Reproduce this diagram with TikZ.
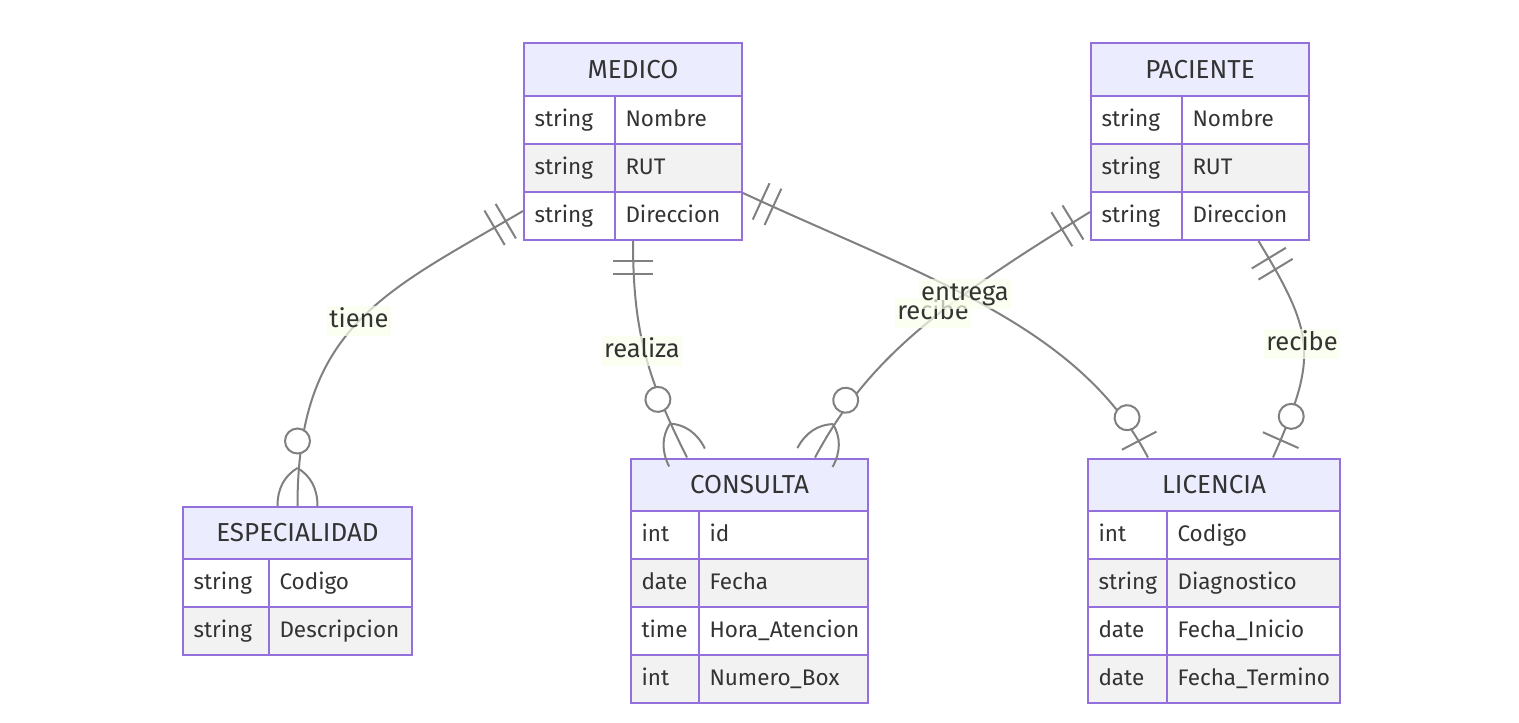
\documentclass[tikz,border=0pt]{standalone}
\usepackage{fontspec}
\setmainfont{Fira Sans}

\definecolor{erborder}{HTML}{9370DB}
\definecolor{erhead}{HTML}{ECECFF}
\definecolor{errow}{HTML}{F2F2F2}
\definecolor{ertext}{HTML}{333333}
\definecolor{relline}{HTML}{808080}
\definecolor{lblbg}{HTML}{F9FFEC}

\begin{document}
\begin{tikzpicture}[x=1pt, y=-1pt,
  ent/.style={draw=erborder, fill=erhead, line width=2pt, anchor=north west, minimum height=53pt, inner sep=0pt, text=ertext, font=\fontsize{26}{30}\selectfont},
  cell/.style={draw=erborder, line width=2pt, anchor=north west, minimum height=48pt, inner xsep=10.5pt, inner ysep=0pt, text width=#1, align=left, text height=17pt, text depth=5pt, text=ertext, font=\fontsize{22.5}{26}\selectfont},
  rowA/.style={cell=#1, fill=white},
  rowB/.style={cell=#1, fill=errow},
  rel/.style={draw=relline, line width=2pt},
  lbl/.style={fill=lblbg, fill opacity=0.7, text opacity=1, text=ertext, inner xsep=2pt, inner ysep=3pt, text height=18pt, text depth=6pt, font=\fontsize{25.5}{29}\selectfont},
  onlyone/.pic={\draw[rel] (20,-20) -- (20,20) (33,-20) -- (33,20);},
  zeroone/.pic={\draw[rel, fill=white] (-45,0) circle (12.5pt); \draw[rel] (-19,-19.5) -- (-19,19.5);},
  zeromany/.pic={\draw[rel, fill=white] (-65,0) circle (12.5pt);
    \draw[rel] (-38,0) .. controls (-30,13.3) and (-17.3,20) .. (0,20)
               (-38,0) .. controls (-30,-13.3) and (-17.3,-20) .. (0,-20);}
]
  \useasboundingbox (0,0) rectangle (1519,723);

  \node[ent, minimum width=218pt] (med) at (523,42) {MEDICO};
  \node[rowA=70pt] (medt1) at (523,95) {string};
  \node[rowA=106pt] (medn1) at (614,95) {Nombre};
  \node[rowB=70pt] (medt2) at (523,143) {string};
  \node[rowB=106pt] (medn2) at (614,143) {RUT};
  \node[rowA=70pt] (medt3) at (523,191) {string};
  \node[rowA=106pt] (medn3) at (614,191) {Direccion};

  \node[ent, minimum width=218pt] (pac) at (1090,42) {PACIENTE};
  \node[rowA=70pt] (pact1) at (1090,95) {string};
  \node[rowA=106pt] (pacn1) at (1181,95) {Nombre};
  \node[rowB=70pt] (pact2) at (1090,143) {string};
  \node[rowB=106pt] (pacn2) at (1181,143) {RUT};
  \node[rowA=70pt] (pact3) at (1090,191) {string};
  \node[rowA=106pt] (pacn3) at (1181,191) {Direccion};

  \node[ent, minimum width=229pt, minimum height=52pt] (esp) at (182,506) {ESPECIALIDAD};
  \node[rowA=65pt] (espt1) at (182,558) {string};
  \node[rowA=122pt] (espn1) at (268,558) {Codigo};
  \node[rowB=65pt] (espt2) at (182,606) {string};
  \node[rowB=122pt] (espn2) at (268,606) {Descripcion};

  \node[ent, minimum width=237pt, minimum height=52.5pt] (con) at (630,457.5) {CONSULTA};
  \node[rowA=47pt] (cont1) at (630,510) {int};
  \node[rowA=148pt] (conn1) at (698,510) {id};
  \node[rowB=47pt] (cont2) at (630,558) {date};
  \node[rowB=148pt] (conn2) at (698,558) {Fecha};
  \node[rowA=47pt] (cont3) at (630,606) {time};
  \node[rowA=148pt] (conn3) at (698,606) {Hora\_Atencion};
  \node[rowB=47pt] (cont4) at (630,654) {int};
  \node[rowB=148pt] (conn4) at (698,654) {Numero\_Box};

  \node[ent, minimum width=252pt, minimum height=52.5pt] (lic) at (1087,457.5) {LICENCIA};
  \node[rowA=58pt] (lict1) at (1087,510) {int};
  \node[rowA=152pt] (licn1) at (1166,510) {Codigo};
  \node[rowB=58pt] (lict2) at (1087,558) {string};
  \node[rowB=152pt] (licn2) at (1166,558) {Diagnostico};
  \node[rowA=58pt] (lict3) at (1087,606) {date};
  \node[rowA=152pt] (licn3) at (1166,606) {Fecha\_Inicio};
  \node[rowB=58pt] (lict4) at (1087,654) {date};
  \node[rowB=152pt] (licn4) at (1166,654) {Fecha\_Termino};

  \draw[rel] ([yshift=5pt]medt3.west) .. controls +(-138,81) and +(0,-180) .. (esp.north);
  \draw[rel] (med |- medt3.south) .. controls +(0,90) and +(-40.3,-80.6) .. ([xshift=57pt]con.north west);
  \draw[rel] ([yshift=4pt]pact3.west) .. controls +(-153.5,94) and +(52,-96.9) .. ([xshift=-54pt]con.north east);
  \draw[rel] (medn2.south east) .. controls +(181.4,84) and +(-69.8,-132.8) .. ([xshift=61pt]lic.north west);
  \draw[rel] ([xshift=13pt]pacn3.south) .. controls +(57.2,94.3) and +(44.6,-100.5) .. ([xshift=-68pt]lic.north east);

  \node[lbl] (ltiene) at (359,321) {tiene};
  \node[lbl] (lrealiza) at (642,351) {realiza};
  \node[lbl] (lrecibe) at (933,313) {recibe};
  \node[lbl] (lentrega) at (965,294) {entrega};
  \node[lbl] (lrecibe2) at (1302,344) {recibe};

  \pic[rotate=-149.5] at ([yshift=5pt]medt3.west) {onlyone};
  \pic[rotate=-90] at (esp.north) {zeromany};
  \pic[rotate=-90] at (med |- medt3.south) {onlyone};
  \pic[rotate=-63.4] at ([xshift=57pt]con.north west) {zeromany};
  \pic[rotate=-148.5] at ([yshift=4pt]pact3.west) {onlyone};
  \pic[rotate=-118.2] at ([xshift=-54pt]con.north east) {zeromany};
  \pic[rotate=-24.8] at (medn2.south east) {onlyone};
  \pic[rotate=-62.3] at ([xshift=61pt]lic.north west) {zeroone};
  \pic[rotate=-58.8] at ([xshift=13pt]pacn3.south) {onlyone};
  \pic[rotate=-113.9] at ([xshift=-68pt]lic.north east) {zeroone};
\end{tikzpicture}
\end{document}
